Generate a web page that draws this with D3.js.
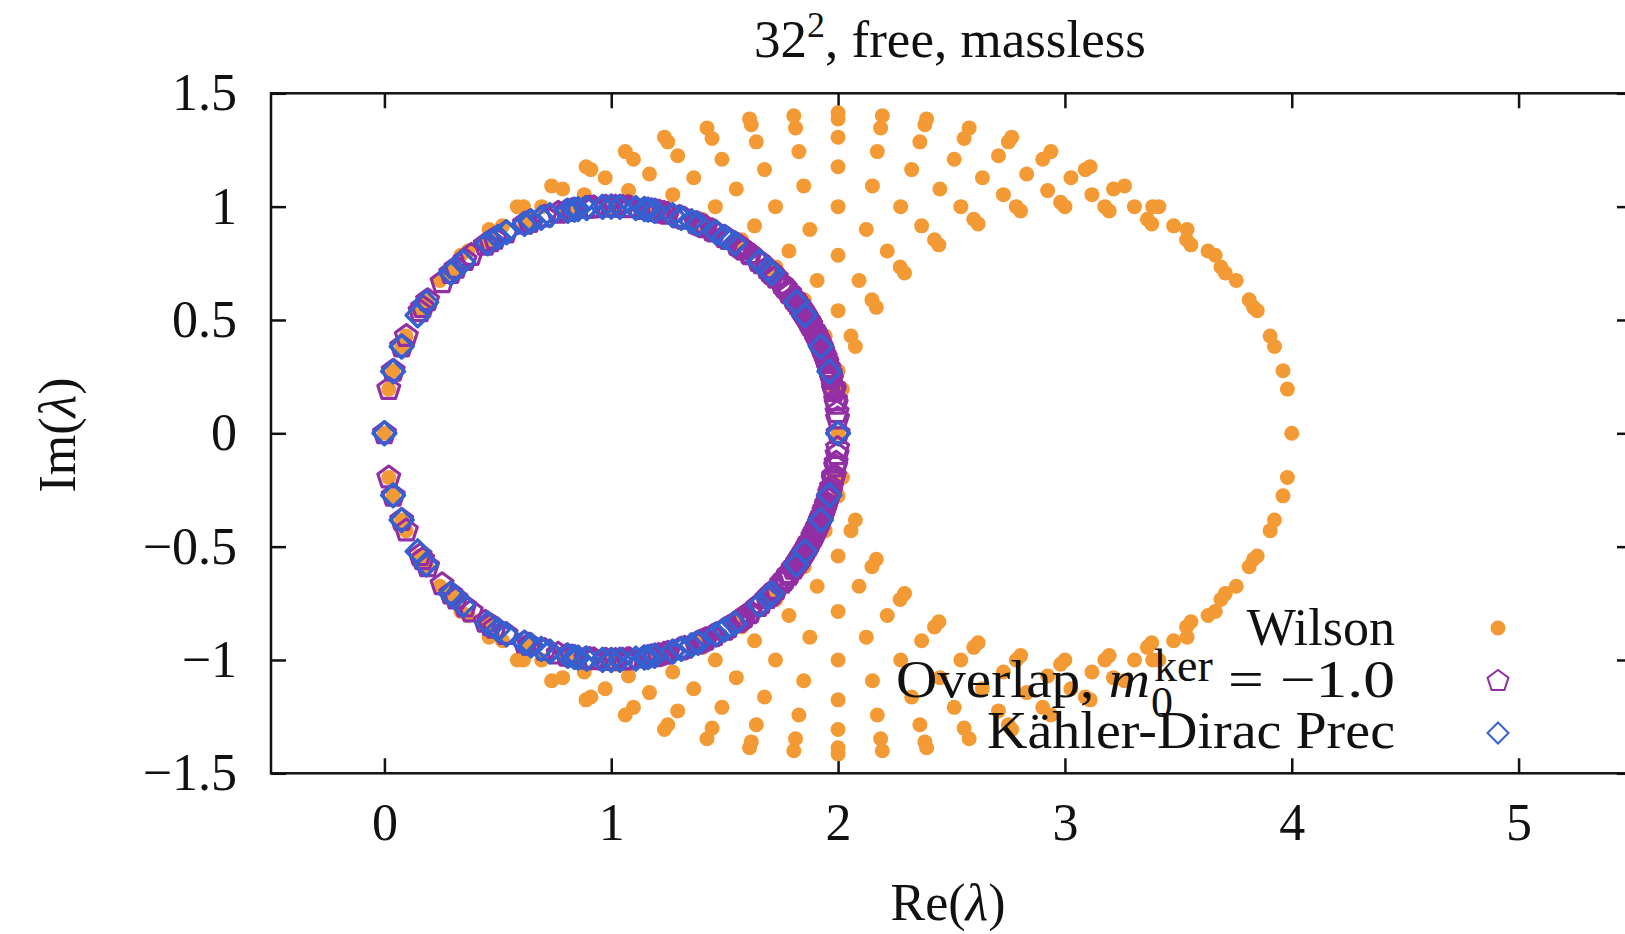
<!DOCTYPE html>
<html lang="en">
<head>
<meta charset="UTF-8">
<title>32^2, free, massless</title>
<script src="https://d3js.org/d3.v7.min.js"></script>
<style>
  html, body { margin: 0; padding: 0; background: #fff; }
  svg { display: block; }
  text { font-family: "Liberation Serif", "DejaVu Serif", serif; fill: #111; }
  .axis path { display: none; }
  .axis line { stroke: #111; stroke-width: 2.5; }
  .axis text { font-size: 52px; font-family: "Liberation Serif", serif; fill: #111; }
</style>
</head>
<body>
<svg id="chart" width="1625" height="934"></svg>
<script>
// ticks
const xTicks = [0, 1, 2, 3, 4, 5];
const yTicks = [-1.5, -1, -0.5, 0, 0.5, 1, 1.5];

// Wilson eigenvalues [Re, Im]
const wilson = [
  [0,0],[0.0192,0.1951],[0.0761,0.3827],[0.1685,0.5556],[0.2929,0.7071],[0.4444,0.8315],[0.6173,0.9239],[0.8049,0.9808],[1,1],[1.1951,0.9808],[1.3827,0.9239],[1.5556,0.8315],[1.7071,0.7071],[1.8315,0.5556],[1.9239,0.3827],[1.9808,0.1951],
  [0.0384,0.2759],[0.0953,0.4295],[0.1877,0.5888],[0.3121,0.7335],[0.4636,0.8541],[0.6365,0.9443],[0.8241,1],[1.0192,1.0189],[1.2143,1],[1.4019,0.9443],[1.5748,0.8541],[1.7263,0.7335],[1.8507,0.5888],[1.9431,0.4295],
  [0.1522,0.5412],[0.2447,0.6746],[0.369,0.804],[0.5206,0.9153],[0.6934,1],[0.881,1.0528],[1.0761,1.0707],[1.2712,1.0528],[1.4588,1],[1.6317,0.9153],[1.7832,0.804],[1.9076,0.6746],
  [0.3371,0.7857],[0.4614,0.8993],[0.613,1],[0.7859,1.0781],[0.9734,1.1272],[1.1685,1.144],[1.3636,1.1272],[1.5512,1.0781],[1.7241,1],[1.8756,0.8993],
  [0.5858,1],[0.7373,1.0915],[0.9102,1.1634],[1.0978,1.2091],[1.2929,1.2247],[1.488,1.2091],[1.6756,1.1634],[1.8485,1.0915],
  [0.8889,1.1759],[1.0618,1.2429],[1.2493,1.2858],[1.4444,1.3005],[1.6395,1.2858],[1.8271,1.2429],
  [1.2346,1.3066],[1.4222,1.3474],[1.6173,1.3615],[1.8124,1.3474],
  [1.6098,1.387],[1.8049,1.4007],
  [2,0],[2,0.2759],[2,0.5412],[2,0.7857],[2,1],[2,1.1759],[2,1.3066],[2,1.387],[2,1.4142],
  [4,0],[3.9808,0.1951],[3.9239,0.3827],[3.8315,0.5556],[3.7071,0.7071],[3.5556,0.8315],[3.3827,0.9239],[3.1951,0.9808],[3,1],[2.8049,0.9808],[2.6173,0.9239],[2.4444,0.8315],[2.2929,0.7071],[2.1685,0.5556],[2.0761,0.3827],[2.0192,0.1951],
  [3.9616,0.2759],[3.9047,0.4295],[3.8123,0.5888],[3.6879,0.7335],[3.5364,0.8541],[3.3635,0.9443],[3.1759,1],[2.9808,1.0189],[2.7857,1],[2.5981,0.9443],[2.4252,0.8541],[2.2737,0.7335],[2.1493,0.5888],[2.0569,0.4295],
  [3.8478,0.5412],[3.7553,0.6746],[3.631,0.804],[3.4794,0.9153],[3.3066,1],[3.119,1.0528],[2.9239,1.0707],[2.7288,1.0528],[2.5412,1],[2.3683,0.9153],[2.2168,0.804],[2.0924,0.6746],
  [3.6629,0.7857],[3.5386,0.8993],[3.387,1],[3.2141,1.0781],[3.0266,1.1272],[2.8315,1.144],[2.6364,1.1272],[2.4488,1.0781],[2.2759,1],[2.1244,0.8993],
  [3.4142,1],[3.2627,1.0915],[3.0898,1.1634],[2.9022,1.2091],[2.7071,1.2247],[2.512,1.2091],[2.3244,1.1634],[2.1515,1.0915],
  [3.1111,1.1759],[2.9382,1.2429],[2.7507,1.2858],[2.5556,1.3005],[2.3605,1.2858],[2.1729,1.2429],
  [2.7654,1.3066],[2.5778,1.3474],[2.3827,1.3615],[2.1876,1.3474],
  [2.3902,1.387],[2.1951,1.4007],
  [0.0192,-0.1951],[0.0761,-0.3827],[0.1685,-0.5556],[0.2929,-0.7071],[0.4444,-0.8315],[0.6173,-0.9239],[0.8049,-0.9808],[1,-1],[1.1951,-0.9808],[1.3827,-0.9239],[1.5556,-0.8315],[1.7071,-0.7071],[1.8315,-0.5556],[1.9239,-0.3827],[1.9808,-0.1951],
  [0.0384,-0.2759],[0.0953,-0.4295],[0.1877,-0.5888],[0.3121,-0.7335],[0.4636,-0.8541],[0.6365,-0.9443],[0.8241,-1],[1.0192,-1.0189],[1.2143,-1],[1.4019,-0.9443],[1.5748,-0.8541],[1.7263,-0.7335],[1.8507,-0.5888],[1.9431,-0.4295],
  [0.1522,-0.5412],[0.2447,-0.6746],[0.369,-0.804],[0.5206,-0.9153],[0.6934,-1],[0.881,-1.0528],[1.0761,-1.0707],[1.2712,-1.0528],[1.4588,-1],[1.6317,-0.9153],[1.7832,-0.804],[1.9076,-0.6746],
  [0.3371,-0.7857],[0.4614,-0.8993],[0.613,-1],[0.7859,-1.0781],[0.9734,-1.1272],[1.1685,-1.144],[1.3636,-1.1272],[1.5512,-1.0781],[1.7241,-1],[1.8756,-0.8993],
  [0.5858,-1],[0.7373,-1.0915],[0.9102,-1.1634],[1.0978,-1.2091],[1.2929,-1.2247],[1.488,-1.2091],[1.6756,-1.1634],[1.8485,-1.0915],
  [0.8889,-1.1759],[1.0618,-1.2429],[1.2493,-1.2858],[1.4444,-1.3005],[1.6395,-1.2858],[1.8271,-1.2429],
  [1.2346,-1.3066],[1.4222,-1.3474],[1.6173,-1.3615],[1.8124,-1.3474],
  [1.6098,-1.387],[1.8049,-1.4007],
  [2,-0.2759],[2,-0.5412],[2,-0.7857],[2,-1],[2,-1.1759],[2,-1.3066],[2,-1.387],[2,-1.4142],
  [3.9808,-0.1951],[3.9239,-0.3827],[3.8315,-0.5556],[3.7071,-0.7071],[3.5556,-0.8315],[3.3827,-0.9239],[3.1951,-0.9808],[3,-1],[2.8049,-0.9808],[2.6173,-0.9239],[2.4444,-0.8315],[2.2929,-0.7071],[2.1685,-0.5556],[2.0761,-0.3827],[2.0192,-0.1951],
  [3.9616,-0.2759],[3.9047,-0.4295],[3.8123,-0.5888],[3.6879,-0.7335],[3.5364,-0.8541],[3.3635,-0.9443],[3.1759,-1],[2.9808,-1.0189],[2.7857,-1],[2.5981,-0.9443],[2.4252,-0.8541],[2.2737,-0.7335],[2.1493,-0.5888],[2.0569,-0.4295],
  [3.8478,-0.5412],[3.7553,-0.6746],[3.631,-0.804],[3.4794,-0.9153],[3.3066,-1],[3.119,-1.0528],[2.9239,-1.0707],[2.7288,-1.0528],[2.5412,-1],[2.3683,-0.9153],[2.2168,-0.804],[2.0924,-0.6746],
  [3.6629,-0.7857],[3.5386,-0.8993],[3.387,-1],[3.2141,-1.0781],[3.0266,-1.1272],[2.8315,-1.144],[2.6364,-1.1272],[2.4488,-1.0781],[2.2759,-1],[2.1244,-0.8993],
  [3.4142,-1],[3.2627,-1.0915],[3.0898,-1.1634],[2.9022,-1.2091],[2.7071,-1.2247],[2.512,-1.2091],[2.3244,-1.1634],[2.1515,-1.0915],
  [3.1111,-1.1759],[2.9382,-1.2429],[2.7507,-1.2858],[2.5556,-1.3005],[2.3605,-1.2858],[2.1729,-1.2429],
  [2.7654,-1.3066],[2.5778,-1.3474],[2.3827,-1.3615],[2.1876,-1.3474],
  [2.3902,-1.387],[2.1951,-1.4007]
];

// Overlap, m0ker = -1.0 eigenvalues [Re, Im]
const overlap = [
  [0,0],[0.0192,0.1951],[0.0761,0.3827],[0.1685,0.5556],[0.2929,0.7071],[0.4444,0.8315],[0.6173,0.9239],[0.8049,0.9808],[1,1],[1.1951,0.9808],[1.3827,0.9239],[1.5556,0.8315],[1.7071,0.7071],[1.8315,0.5556],[1.9239,0.3827],[1.9808,0.1951],
  [0.0388,0.2758],[0.0967,0.4289],[0.1903,0.5869],[0.3159,0.7294],[0.4682,0.8468],[0.6407,0.9333],[0.8268,0.9849],[1.0188,0.9998],[1.2095,0.9778],[1.3916,0.9201],[1.5583,0.8296],[1.7036,0.7106],[1.8222,0.5691],[1.9101,0.4145],
  [0.1571,0.5381],[0.2542,0.6661],[0.3826,0.7866],[0.536,0.8859],[0.7069,0.9561],[0.8877,0.9937],[1.0709,0.9975],[1.2494,0.9684],[1.417,0.9089],[1.568,0.823],[1.6978,0.7163],[1.8026,0.5966],
  [0.3551,0.7643],[0.4862,0.8579],[0.6391,0.9326],[0.8052,0.9809],[0.9764,0.9997],[1.1457,0.9894],[1.307,0.9517],[1.4552,0.8904],[1.5865,0.81],[1.6976,0.7165],
  [0.766,0.9723],[0.923,0.997],[1.0806,0.9967],[1.2326,0.9725],[1.3743,0.9274],[1.5022,0.8647],[1.6137,0.7895],
  [0.9059,0.9956],[1.0497,0.9987],[1.1903,0.9817],[1.3234,0.9463],[1.4453,0.8953],[1.554,0.8325],
  [1.1767,0.9843],[1.299,0.9542],[1.4129,0.9108],[1.5163,0.8564],
  [1.4025,0.9154],[1.4982,0.867],
  [2,0],[1.964,0.266],[1.8794,0.476],[1.7863,0.6178],[1.6478,0.7618],[1.6078,0.7941],[1.5848,0.8112],[1.5774,0.8165],
  [1.9979,0.0653],[1.9915,0.1298],[1.9813,0.1925],[1.9675,0.2527],[1.9509,0.3094],[1.9324,0.3615],[1.913,0.4079],[1.8944,0.4472],[1.8786,0.4775],[1.8683,0.496],[1.8667,0.4989],[1.8774,0.4798],[1.9031,0.4294],[1.9422,0.3351],[1.9822,0.188],
  [1.9957,0.0928],[1.9892,0.1463],[1.9788,0.2049],[1.9647,0.2633],[1.9477,0.3191],[1.9286,0.371],[1.9087,0.4176],[1.8893,0.4574],[1.8725,0.4886],[1.8609,0.5087],[1.8578,0.5141],[1.8666,0.499],[1.89,0.4559],[1.9264,0.3765],
  [1.9824,0.1867],[1.9713,0.2378],[1.9563,0.2922],[1.9381,0.3463],[1.9175,0.3978],[1.8956,0.445],[1.8738,0.4863],[1.8541,0.5201],[1.8389,0.5443],[1.8312,0.556],[1.8343,0.5513],[1.8508,0.5254],
  [1.9591,0.283],[1.9426,0.3339],[1.9223,0.3864],[1.8991,0.4378],[1.8739,0.4861],[1.8482,0.5298],[1.8235,0.5673],[1.8023,0.597],[1.7871,0.6169],[1.781,0.6246],
  [1.9007,0.4345],[1.8737,0.4864],[1.8439,0.5364],[1.8125,0.5829],[1.781,0.6245],[1.7513,0.66],[1.7258,0.688],
  [1.8736,0.4866],[1.8418,0.5398],[1.806,0.5919],[1.7672,0.6414],[1.7268,0.6869],[1.6863,0.7273],
  [1.8038,0.5949],[1.7605,0.6494],[1.7125,0.7016],[1.6612,0.7502],
  [1.7079,0.7063],[1.6491,0.7607],
  [0.0192,-0.1951],[0.0761,-0.3827],[0.1685,-0.5556],[0.2929,-0.7071],[0.4444,-0.8315],[0.6173,-0.9239],[0.8049,-0.9808],[1,-1],[1.1951,-0.9808],[1.3827,-0.9239],[1.5556,-0.8315],[1.7071,-0.7071],[1.8315,-0.5556],[1.9239,-0.3827],[1.9808,-0.1951],
  [0.0388,-0.2758],[0.0967,-0.4289],[0.1903,-0.5869],[0.3159,-0.7294],[0.4682,-0.8468],[0.6407,-0.9333],[0.8268,-0.9849],[1.0188,-0.9998],[1.2095,-0.9778],[1.3916,-0.9201],[1.5583,-0.8296],[1.7036,-0.7106],[1.8222,-0.5691],[1.9101,-0.4145],
  [0.1571,-0.5381],[0.2542,-0.6661],[0.3826,-0.7866],[0.536,-0.8859],[0.7069,-0.9561],[0.8877,-0.9937],[1.0709,-0.9975],[1.2494,-0.9684],[1.417,-0.9089],[1.568,-0.823],[1.6978,-0.7163],[1.8026,-0.5966],
  [0.3551,-0.7643],[0.4862,-0.8579],[0.6391,-0.9326],[0.8052,-0.9809],[0.9764,-0.9997],[1.1457,-0.9894],[1.307,-0.9517],[1.4552,-0.8904],[1.5865,-0.81],[1.6976,-0.7165],
  [0.766,-0.9723],[0.923,-0.997],[1.0806,-0.9967],[1.2326,-0.9725],[1.3743,-0.9274],[1.5022,-0.8647],[1.6137,-0.7895],
  [0.9059,-0.9956],[1.0497,-0.9987],[1.1903,-0.9817],[1.3234,-0.9463],[1.4453,-0.8953],[1.554,-0.8325],
  [1.1767,-0.9843],[1.299,-0.9542],[1.4129,-0.9108],[1.5163,-0.8564],
  [1.4025,-0.9154],[1.4982,-0.867],
  [1.964,-0.266],[1.8794,-0.476],[1.7863,-0.6178],[1.6478,-0.7618],[1.6078,-0.7941],[1.5848,-0.8112],[1.5774,-0.8165],
  [1.9979,-0.0653],[1.9915,-0.1298],[1.9813,-0.1925],[1.9675,-0.2527],[1.9509,-0.3094],[1.9324,-0.3615],[1.913,-0.4079],[1.8944,-0.4472],[1.8786,-0.4775],[1.8683,-0.496],[1.8667,-0.4989],[1.8774,-0.4798],[1.9031,-0.4294],[1.9422,-0.3351],[1.9822,-0.188],
  [1.9957,-0.0928],[1.9892,-0.1463],[1.9788,-0.2049],[1.9647,-0.2633],[1.9477,-0.3191],[1.9286,-0.371],[1.9087,-0.4176],[1.8893,-0.4574],[1.8725,-0.4886],[1.8609,-0.5087],[1.8578,-0.5141],[1.8666,-0.499],[1.89,-0.4559],[1.9264,-0.3765],
  [1.9824,-0.1867],[1.9713,-0.2378],[1.9563,-0.2922],[1.9381,-0.3463],[1.9175,-0.3978],[1.8956,-0.445],[1.8738,-0.4863],[1.8541,-0.5201],[1.8389,-0.5443],[1.8312,-0.556],[1.8343,-0.5513],[1.8508,-0.5254],
  [1.9591,-0.283],[1.9426,-0.3339],[1.9223,-0.3864],[1.8991,-0.4378],[1.8739,-0.4861],[1.8482,-0.5298],[1.8235,-0.5673],[1.8023,-0.597],[1.7871,-0.6169],[1.781,-0.6246],
  [1.9007,-0.4345],[1.8737,-0.4864],[1.8439,-0.5364],[1.8125,-0.5829],[1.781,-0.6245],[1.7513,-0.66],[1.7258,-0.688],
  [1.8736,-0.4866],[1.8418,-0.5398],[1.806,-0.5919],[1.7672,-0.6414],[1.7268,-0.6869],[1.6863,-0.7273],
  [1.8038,-0.5949],[1.7605,-0.6494],[1.7125,-0.7016],[1.6612,-0.7502],
  [1.7079,-0.7063],[1.6491,-0.7607]
];

// Kähler-Dirac preconditioned eigenvalues [Re, Im]
const kahlerDirac = [
  [0,0],[0.0381,0.2733],[0.0761,0.3827],[0.1464,0.521],[0.1845,0.5788],[0.2929,0.7071],[0.3087,0.7225],[0.3467,0.7571],[0.4551,0.8385],[0.5,0.866],[0.5381,0.8869],[0.6173,0.9239],[0.6464,0.9354],[0.6913,0.9512],[0.7294,0.9627],[0.8087,0.9815],[0.8378,0.9868],[0.8536,0.9892],[0.8916,0.9941],[0.9619,0.9993],[1,1],
  [1.0381,0.9993],[1.1084,0.9941],[1.1464,0.9892],[1.1622,0.9868],[1.1913,0.9815],[1.2706,0.9627],[1.3087,0.9512],[1.3536,0.9354],[1.3827,0.9239],[1.4619,0.8869],[1.5,0.866],[1.5449,0.8385],[1.6533,0.7571],[1.6913,0.7225],[1.7071,0.7071],[1.8155,0.5788],[1.8536,0.521],[1.9239,0.3827],[1.9619,0.2733],[2,0],
  [0.0381,-0.2733],[0.0761,-0.3827],[0.1464,-0.521],[0.1845,-0.5788],[0.2929,-0.7071],[0.3087,-0.7225],[0.3467,-0.7571],[0.4551,-0.8385],[0.5,-0.866],[0.5381,-0.8869],[0.6173,-0.9239],[0.6464,-0.9354],[0.6913,-0.9512],[0.7294,-0.9627],[0.8087,-0.9815],[0.8378,-0.9868],[0.8536,-0.9892],[0.8916,-0.9941],[0.9619,-0.9993],[1,-1],
  [1.0381,-0.9993],[1.1084,-0.9941],[1.1464,-0.9892],[1.1622,-0.9868],[1.1913,-0.9815],[1.2706,-0.9627],[1.3087,-0.9512],[1.3536,-0.9354],[1.3827,-0.9239],[1.4619,-0.8869],[1.5,-0.866],[1.5449,-0.8385],[1.6533,-0.7571],[1.6913,-0.7225],[1.7071,-0.7071],[1.8155,-0.5788],[1.8536,-0.521],[1.9239,-0.3827],[1.9619,-0.2733]
];

const colors = { wilson: "#f39a34", overlap: "#932fa5", kd: "#3461d1" };

const svg = d3.select("#chart");

// plot area: the right border sits just outside the picture
const x = d3.scaleLinear().domain([-0.5, 5.5]).range([271, 1632]);
const y = d3.scaleLinear().domain([-1.5, 1.5]).range([773.3, 93.3]);

// marker shapes
function pentagon(r) {
  const pts = d3.range(5).map(i => {
    const a = i * 2 * Math.PI / 5;
    return [r * Math.sin(a), -r * Math.cos(a)];
  });
  return "M" + pts.map(p => p.join(",")).join("L") + "Z";
}
function diamond(r) {
  return `M0,${-r}L${r},0L0,${r}L${-r},0Z`;
}

// axes with inward ticks on all four sides
const fmt = d3.format("~g");
svg.append("g").attr("class", "axis")
  .attr("transform", "translate(0,773.3)")
  .call(d3.axisBottom(x).tickValues(xTicks).tickSizeInner(-15).tickSizeOuter(0).tickPadding(30).tickFormat(fmt));
svg.append("g").attr("class", "axis")
  .attr("transform", "translate(0,93.3)")
  .call(d3.axisTop(x).tickValues(xTicks).tickSizeInner(-15).tickSizeOuter(0).tickFormat(""));
svg.append("g").attr("class", "axis")
  .attr("transform", "translate(271,0)")
  .call(d3.axisLeft(y).tickValues(yTicks).tickSizeInner(-15).tickSizeOuter(0).tickPadding(34).tickFormat(fmt));
svg.append("g").attr("class", "axis")
  .attr("transform", "translate(1632,0)")
  .call(d3.axisRight(y).tickValues(yTicks).tickSizeInner(-15).tickSizeOuter(0).tickFormat(""));
svg.selectAll(".axis text").attr("font-size", 52);

// series
svg.append("g").selectAll("circle").data(wilson).join("circle")
  .attr("cx", d => x(d[0])).attr("cy", d => y(d[1])).attr("r", 7.5)
  .attr("fill", colors.wilson);

svg.append("g").selectAll("path").data(overlap).join("path")
  .attr("d", pentagon(11.5))
  .attr("transform", d => `translate(${x(d[0])},${y(d[1])})`)
  .attr("fill", "none").attr("stroke", colors.overlap).attr("stroke-width", 3.2)
  .attr("stroke-linejoin", "round");

svg.append("g").selectAll("path").data(kahlerDirac).join("path")
  .attr("d", diamond(11.5))
  .attr("transform", d => `translate(${x(d[0])},${y(d[1])})`)
  .attr("fill", "none").attr("stroke", colors.kd).attr("stroke-width", 3.4)
  .attr("stroke-linejoin", "round");

// frame
svg.append("rect")
  .attr("x", 271).attr("y", 93.3).attr("width", 1361).attr("height", 680)
  .attr("fill", "none").attr("stroke", "#111").attr("stroke-width", 2.5);

// title
const title = svg.append("text").attr("x", 950).attr("y", 57)
  .attr("text-anchor", "middle").attr("font-size", 53);
title.append("tspan").text("32");
title.append("tspan").attr("dy", -20).attr("font-size", 36).text("2");
title.append("tspan").attr("dy", 20).text(", free, massless");

// axis titles
const xl = svg.append("text").attr("x", 948).attr("y", 920)
  .attr("text-anchor", "middle").attr("font-size", 52);
xl.append("tspan").text("Re(");
xl.append("tspan").attr("font-style", "italic").text("λ");
xl.append("tspan").text(")");

const yl = svg.append("text").attr("transform", "translate(75,435) rotate(-90)")
  .attr("text-anchor", "middle").attr("font-size", 52);
yl.append("tspan").text("Im(");
yl.append("tspan").attr("font-style", "italic").text("λ");
yl.append("tspan").text(")");

// legend
const legX = 1395, symX = 1498;
const rows = [628, 681, 733];
const leg = svg.append("g").attr("font-size", 52);

leg.append("text").attr("x", legX).attr("y", rows[0] + 17)
  .attr("text-anchor", "end").text("Wilson");

// overlap entry: pieces placed like the stacked sub/superscript of the original
const ov = leg.append("text").attr("x", 1150).attr("y", rows[1] + 16)
  .attr("text-anchor", "end").attr("textLength", 254).attr("lengthAdjust", "spacingAndGlyphs");
ov.append("tspan").text("Overlap, ");
ov.append("tspan").attr("font-style", "italic").text("m");
leg.append("text").attr("x", 1151).attr("y", rows[1] + 36).attr("font-size", 44).text("0");
leg.append("text").attr("x", 1154).attr("y", rows[1]).attr("font-size", 46).text("ker");
leg.append("text").attr("x", legX).attr("y", rows[1] + 16)
  .attr("text-anchor", "end").attr("textLength", 167).attr("lengthAdjust", "spacingAndGlyphs")
  .text("= −1.0");

leg.append("text").attr("x", legX).attr("y", rows[2] + 15)
  .attr("text-anchor", "end").attr("textLength", 408).attr("lengthAdjust", "spacingAndGlyphs")
  .text("Kähler-Dirac Prec");

leg.append("circle").attr("cx", symX).attr("cy", rows[0]).attr("r", 7.5).attr("fill", colors.wilson);
leg.append("path").attr("d", pentagon(11)).attr("transform", `translate(${symX},${rows[1]})`)
  .attr("fill", "none").attr("stroke", colors.overlap).attr("stroke-width", 2);
leg.append("path").attr("d", diamond(10.5)).attr("transform", `translate(${symX},${rows[2]})`)
  .attr("fill", "none").attr("stroke", colors.kd).attr("stroke-width", 2);
</script>
</body>
</html>
